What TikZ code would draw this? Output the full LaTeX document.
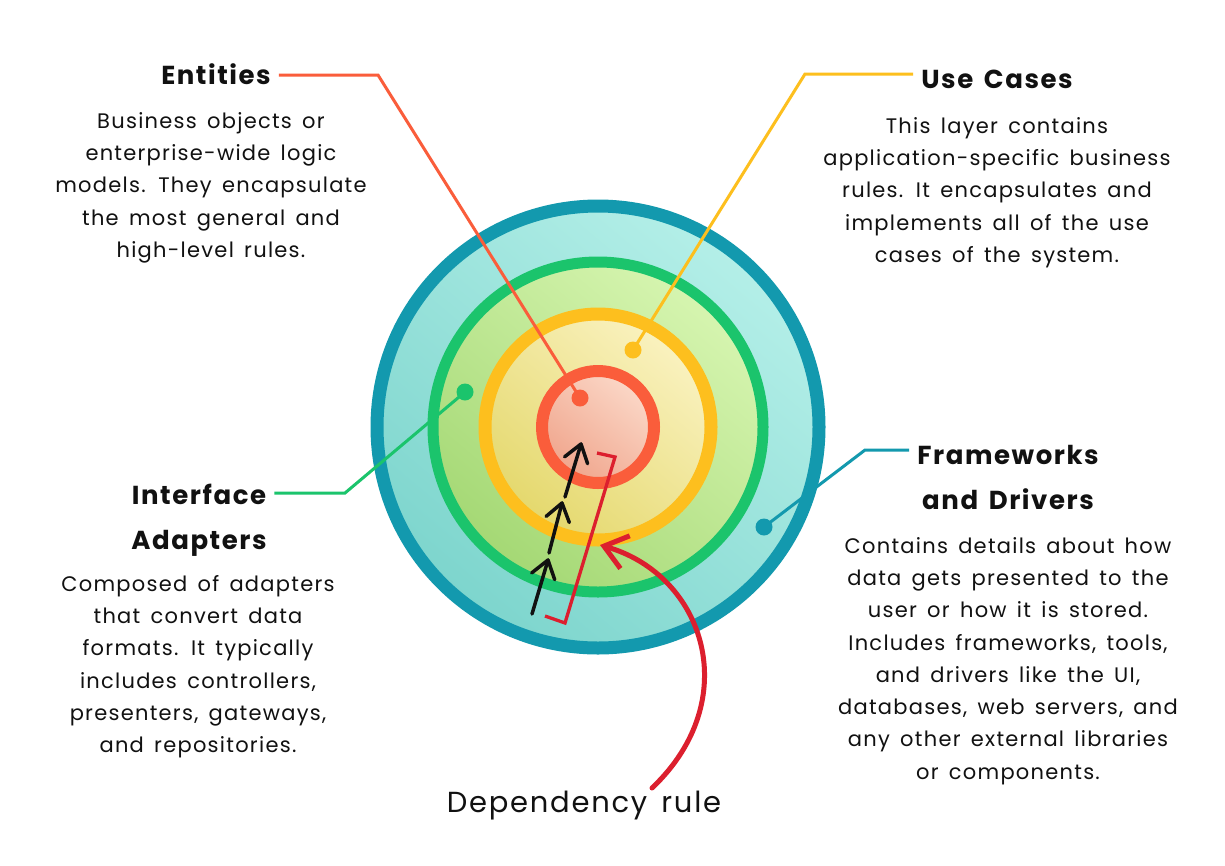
\documentclass[tikz,border=0pt]{standalone}
\usepackage{fontspec}
\setmainfont{Poppins}[WordSpace=1.5, LetterSpace=6]
\usetikzlibrary{arrows.meta}
\definecolor{tealline}{HTML}{1399AE}
\definecolor{tealA}{HTML}{B4EFE8}
\definecolor{tealB}{HTML}{7DD5CD}
\definecolor{greenline}{HTML}{1BC46C}
\definecolor{greenA}{HTML}{D6F5B0}
\definecolor{greenB}{HTML}{A4D874}
\definecolor{yelline}{HTML}{FDBF1E}
\definecolor{yelA}{HTML}{FAF2C0}
\definecolor{yelB}{HTML}{E4D86C}
\definecolor{redline}{HTML}{FA5D3B}
\definecolor{redA}{HTML}{FBD8C8}
\definecolor{redB}{HTML}{F0A58C}
\definecolor{depred}{HTML}{DC1F2E}
\definecolor{ink}{HTML}{111111}
\begin{document}
\begin{tikzpicture}[x=1pt,y=-1pt,
  titletext/.style={font=\fontsize{26}{45}\selectfont\bfseries, text=ink, inner sep=0pt, anchor=base},
  bodytext/.style={font=\fontsize{21}{32.3}\selectfont, text=ink, align=center, inner sep=0pt, anchor=north},
  dot/.style={circle, minimum size=17pt, inner sep=0pt},
  leader/.style={line width=3pt, shorten <=8pt},
  depstep/.style={line width=3.5pt, draw=ink, line cap=round, line join=round},
]
\useasboundingbox (0,0) rectangle (1225,865);
\fill[white] (0,0) rectangle (1225,865);

% rings
\coordinate (ctr) at (598,427);
\shade[top color=tealA, bottom color=tealB, shading angle=-40] (ctr) circle[radius=221pt];
\draw[tealline, line width=13pt] (ctr) circle[radius=221pt];
\shade[top color=greenA, bottom color=greenB, shading angle=-40] (ctr) circle[radius=165pt];
\draw[greenline, line width=11pt] (ctr) circle[radius=165pt];
\shade[top color=yelA, bottom color=yelB, shading angle=-40] (ctr) circle[radius=113pt];
\draw[yelline, line width=13pt] (ctr) circle[radius=113pt];
\shade[top color=redA, bottom color=redB, shading angle=-40] (ctr) circle[radius=56pt];
\draw[redline, line width=12pt] (ctr) circle[radius=56pt];

% dots
\node[dot, fill=redline] (entdot) at (580,398) {};
\node[dot, fill=yelline] (ucdot) at (633,350) {};
\node[dot, fill=greenline] (iadot) at (465,392) {};
\node[dot, fill=tealline] (fddot) at (764,527) {};

% titles
\node[titletext] (ent) at (216,84) {Entities};
\node[titletext] (uc) at (997,88) {Use Cases};
\node[titletext] (ia1) at (199,504) {Interface};
\node[titletext] (ia2) at (199,549) {Adapters};
\node[titletext] (fd1) at (1008,464) {Frameworks};
\node[titletext] (fd2) at (1008,509) {and Drivers};

% bodies
\node[bodytext] (entbody) at (211,112) {Business objects or\\enterprise-wide logic\\models. They encapsulate\\the most general and\\high-level rules.};
\node[bodytext] (ucbody) at (997,117) {This layer contains\\application-specific business\\rules. It encapsulates and\\implements all of the use\\cases of the system.};
\node[bodytext] (iabody) at (198,575) {Composed of adapters\\that convert data\\formats. It typically\\includes controllers,\\presenters, gateways,\\and repositories.};
\node[bodytext] (fdbody) at (1008,537) {Contains details about how\\data gets presented to the\\user or how it is stored.\\Includes frameworks, tools,\\and drivers like the UI,\\databases, web servers, and\\any other external libraries\\or components.};
\node[font=\fontsize{29}{34}\selectfont, text=ink, inner sep=0pt, anchor=base] (dep) at (584,812) {Dependency rule};

% leader lines
\coordinate (entbend) at (378,75);
\coordinate (ucbend) at (805,74);
\coordinate (iabend) at (345,493);
\coordinate (fdbend) at (865,450);
\draw[leader, redline] (ent.east |- entbend) -- (entbend) -- (entdot.center);
\draw[leader, yelline] (uc.west |- ucbend) -- (ucbend) -- (ucdot.center);
\draw[leader, greenline] (ia1.east |- iabend) -- (iabend) -- (iadot.center);
\draw[leader, tealline] (fd1.west |- fdbend) -- (fdbend) -- (fddot.center);

% dependency steps (shaft + open chevron head)
\coordinate (s1a) at (532,614);
\coordinate (s1b) at (548,560);
\coordinate (h1l) at (531.7,572.9);
\coordinate (h1r) at (554.7,579.7);
\coordinate (s2a) at (549,553);
\coordinate (s2b) at (562,503);
\coordinate (h2l) at (546.1,516.4);
\coordinate (h2r) at (569.3,522.5);
\coordinate (s3a) at (565,497);
\coordinate (s3b) at (581,444);
\coordinate (h3l) at (564.6,456.8);
\coordinate (h3r) at (587.6,463.7);
\draw[depstep] (s1a) -- (s1b);
\draw[depstep] (h1l) -- (s1b) -- (h1r);
\draw[depstep] (s2a) -- (s2b);
\draw[depstep] (h2l) -- (s2b) -- (h2r);
\draw[depstep] (s3a) -- (s3b);
\draw[depstep] (h3l) -- (s3b) -- (h3r);

% bracket
\coordinate (br1) at (597,453);
\coordinate (br2) at (615,457);
\coordinate (br3) at (565,623);
\coordinate (br4) at (545,616);
\draw[depred, line width=3.3pt] (br1) -- (br2) -- (br3) -- (br4);

% curved arrow
\coordinate (depstart) at (652,788);
\coordinate (tipc) at (600,545);
\draw[depred, line width=5pt, line cap=round, -{Straight Barb[length=22pt,width=34pt,line width=5pt]}]
  (depstart) .. controls (745,700) and (705,575) .. (tipc);
\end{tikzpicture}
\end{document}
